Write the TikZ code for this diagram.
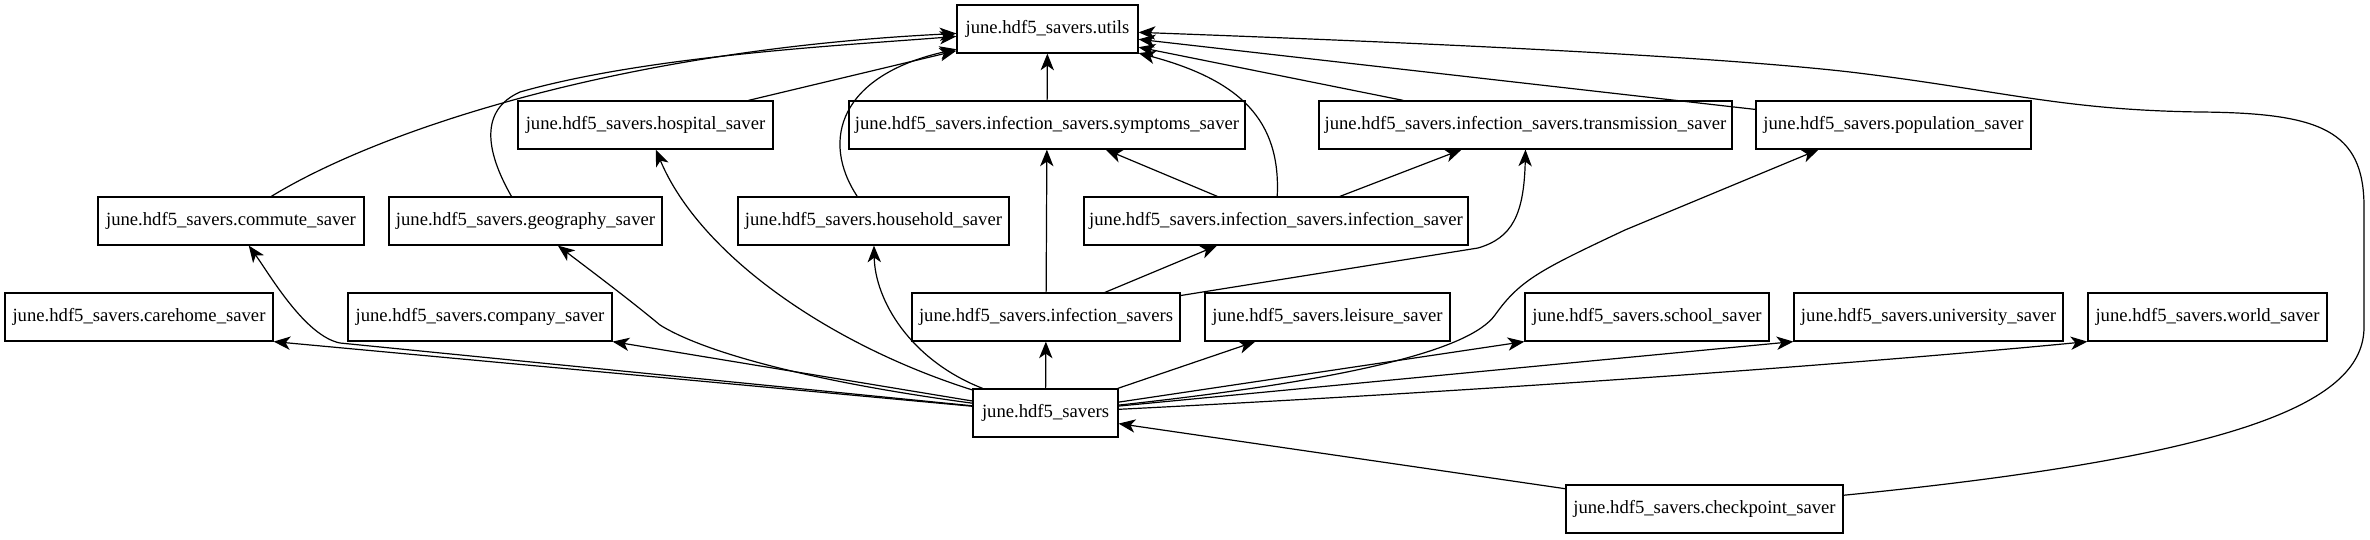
\documentclass[tikz,border=0pt]{standalone}
\usepackage{fontspec}
\setmainfont{Liberation Serif}
\usetikzlibrary{arrows.meta,calc}
\begin{document}
\begin{tikzpicture}[x=0.75pt,y=-0.75pt,
  box/.style={draw,line width=0.9pt,rectangle,inner sep=0pt,minimum height=36pt,font=\fontsize{14}{16}\selectfont},
  edge/.style={line width=0.9pt,-{Stealth[length=12.5pt,width=10pt,inset=3.5pt]}}]
\useasboundingbox[fill=white] (0,0) rectangle (2370,539);
% nodes (centres and widths in pixels)
\node[box,minimum width=181*0.75pt] (utils) at (1047.5,29) {june.hdf5\_savers.utils};
\node[box,minimum width=255*0.75pt] (hospital) at (645.5,125) {june.hdf5\_savers.hospital\_saver};
\node[box,minimum width=396*0.75pt] (symptoms) at (1047,125) {june.hdf5\_savers.infection\_savers.symptoms\_saver};
\node[box,minimum width=413*0.75pt] (transmission) at (1525.5,125) {june.hdf5\_savers.infection\_savers.transmission\_saver};
\node[box,minimum width=275*0.75pt] (population) at (1893.5,125) {june.hdf5\_savers.population\_saver};
\node[box,minimum width=266*0.75pt] (commute) at (231,221) {june.hdf5\_savers.commute\_saver};
\node[box,minimum width=273*0.75pt] (geography) at (525.5,221) {june.hdf5\_savers.geography\_saver};
\node[box,minimum width=271*0.75pt] (household) at (873.5,221) {june.hdf5\_savers.household\_saver};
\node[box,minimum width=384*0.75pt] (infsaver) at (1276,221) {june.hdf5\_savers.infection\_savers.infection\_saver};
\node[box,minimum width=268*0.75pt] (carehome) at (139,317) {june.hdf5\_savers.carehome\_saver};
\node[box,minimum width=264*0.75pt] (company) at (480,317) {june.hdf5\_savers.company\_saver};
\node[box,minimum width=268*0.75pt] (infsavers) at (1046,317) {june.hdf5\_savers.infection\_savers};
\node[box,minimum width=245*0.75pt] (leisure) at (1327.5,317) {june.hdf5\_savers.leisure\_saver};
\node[box,minimum width=244*0.75pt] (school) at (1647,317) {june.hdf5\_savers.school\_saver};
\node[box,minimum width=269*0.75pt] (university) at (1928.5,317) {june.hdf5\_savers.university\_saver};
\node[box,minimum width=239*0.75pt] (world) at (2207.5,317) {june.hdf5\_savers.world\_saver};
\node[box,minimum width=145*0.75pt] (H) at (1045.5,413) {june.hdf5\_savers};
\node[box,minimum width=277*0.75pt] (checkpoint) at (1704.5,509) {june.hdf5\_savers.checkpoint\_saver};
% edges from june.hdf5_savers
\draw[edge] (H) -- (carehome.south east);
\draw[edge] (H) -- (company.south east);
\draw[edge] (H) -- (340,343) .. controls (305,336) and (270,275) .. (commute);
\draw[edge] (H) .. controls (800,380) and (700,350) .. (660,325) .. controls (630,300) and (590,270) .. (geography);
\draw[edge] (H) .. controls (830,345) and (700,255) .. (hospital);
\draw[edge] (H) .. controls (910,360) and (875,300) .. (household);
\draw[edge] (H) -- (infsavers);
\draw[edge] (H) -- (leisure);
\draw[edge] (H) -- (school.south west);
\draw[edge] (H) -- (university.south west);
\draw[edge] (H) .. controls (1600,385) and (1950,355) .. (world.south west);
\draw[edge] (H) .. controls (1350,380) and (1470,350) .. (1495,315) .. controls (1520,280) and (1540,270) .. (1625,230) -- ($(population.south)+(-75,0)$);
% checkpoint
\draw[edge] (checkpoint) -- (H);
\draw[edge] (checkpoint) .. controls (2250,455) and (2364,400) .. (2364,327) -- (2364,207)
  .. controls (2364,130) and (2320,113) .. (2200,112)
  .. controls (2060,110) and (2000,90) .. (1850,72)
  .. controls (1700,55) and (1400,42) .. (utils);
% infection savers
\draw[edge] (infsavers) -- (symptoms);
\draw[edge] (infsavers) -- (infsaver);
\draw[edge] (infsavers) -- (1478,248) .. controls (1512,238) and (1524,215) .. (transmission.south);
\draw[edge] (infsaver) -- (symptoms);
\draw[edge] (infsaver) -- (transmission);
\draw[edge] (infsaver) .. controls (1281,120) and (1240,80) .. (utils);
% to utils
\draw[edge] (symptoms) -- (utils);
\draw[edge] (hospital) -- (utils);
\draw[edge] (household) .. controls (820,140) and (840,75) .. (utils);
\draw[edge] (geography) .. controls (485,150) and (480,110) .. (520,92) .. controls (650,55) and (850,45) .. (utils);
\draw[edge] (commute) .. controls (380,130) and (620,50) .. (utils);
\draw[edge] (transmission) -- (utils);
\draw[edge] (population) -- (utils);
\end{tikzpicture}
\end{document}
